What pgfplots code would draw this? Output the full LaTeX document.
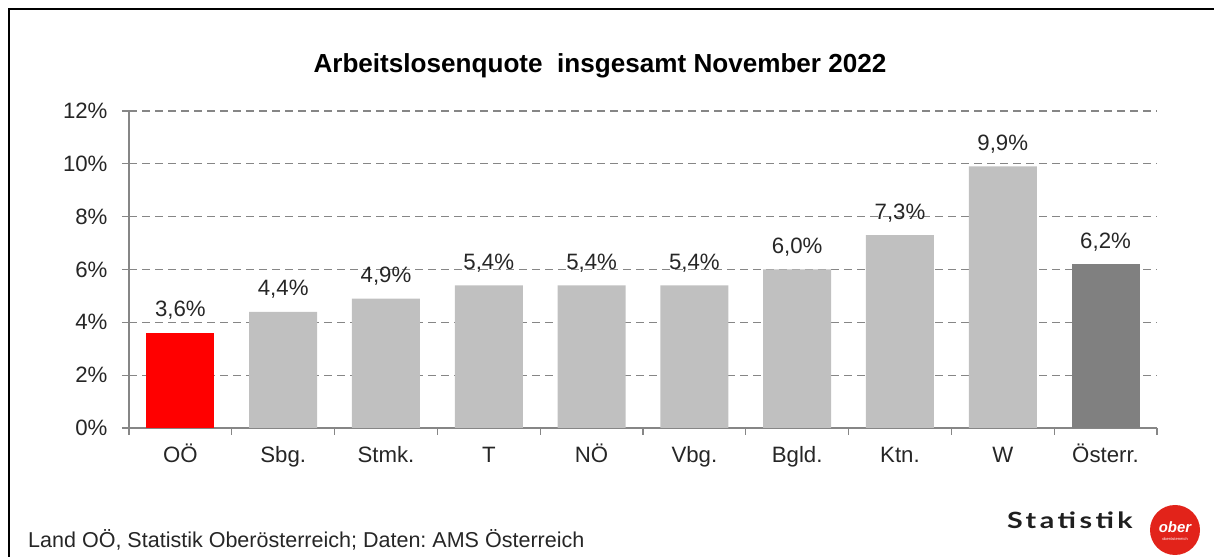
\documentclass[border=0pt]{standalone}
\usepackage{pgfplots}
\pgfplotsset{compat=1.18}
\usepackage{fontspec}
\setmainfont{Liberation Sans}
\newfontfamily\logofont[LetterSpace=12]{Lato}
\definecolor{barred}{HTML}{FF0000}
\definecolor{bargray}{HTML}{C0C0C0}
\definecolor{bardark}{HTML}{808080}
\definecolor{axgray}{HTML}{868686}
\definecolor{logored}{HTML}{E2231A}
\pgfkeys{/pgf/number format/assume math mode=true}
\frenchspacing
\begin{document}
\begin{tikzpicture}
\useasboundingbox (0bp,0bp) rectangle (1214bp,557bp);
\draw[line width=2bp] (9bp,-5bp) -- (9bp,548bp) -- (1220bp,548bp);
\begin{axis}[
  at={(129bp,129bp)}, anchor=south west,
  scale only axis, width=1028bp, height=317bp,
  xmin=-0.5, xmax=9.5, ymin=0, ymax=12,
  axis x line*=bottom, axis y line*=left,
  axis line style={axgray, line width=1.3bp, -},
  ytick={0,2,...,12},
  yticklabel={\pgfmathprintnumber[assume math mode=true]{\tick}\%},
  tick align=outside, major tick length=7bp,
  tick style={axgray, line width=1.3bp},
  xtick={-0.5,0.5,...,9.5}, xticklabels={},
  extra x ticks={0,...,9},
  extra x tick labels={O\"O,Sbg.,Stmk.,T,N\"O,Vbg.,Bgld.,Ktn.,W,\"Osterr.},
  extra x tick style={major tick length=0pt, xticklabel style={anchor=base, yshift=-35bp}},
  ymajorgrids, grid style={axgray, line width=1.3bp, dash pattern=on 8bp off 5bp},
  ticklabel style={font=\fontsize{22.3}{25}\selectfont, text=black!85},
  yticklabel style={xshift=-11bp},
  ybar, bar width=68bp, bar shift=0pt,
  nodes near coords={\pgfmathprintnumber[fixed,fixed zerofill,precision=1,use comma,assume math mode=true]{\pgfplotspointmeta}\%},
  nodes near coords style={anchor=base, inner sep=0pt, yshift=16bp, font=\fontsize{22.3}{25}\selectfont, text=black!85},
  clip=false,
]
\addplot[fill=barred, draw=none] coordinates {(0,3.6)};
\addplot[fill=bargray, draw=none] coordinates {(1,4.4) (2,4.9) (3,5.4) (4,5.4) (5,5.4) (6,6.0) (7,7.3) (8,9.9)};
\addplot[fill=bardark, draw=none] coordinates {(9,6.2)};
\end{axis}
\node[anchor=base, font=\bfseries\fontsize{26.2}{30}\selectfont] at (600bp,484bp) {Arbeitslosenquote\ \ insgesamt November 2022};
\node[anchor=base west, inner sep=0pt, font=\fontsize{21.6}{24}\selectfont, text=black!85] at (28bp,10bp) {Land O\"O, Statistik Ober\"osterreich; Daten: AMS \"Osterreich};
\node[anchor=base west, inner sep=0pt, text=black!88] at (1007bp,29bp) {\scalebox{1.15}[0.9]{\logofont\bfseries\fontsize{25}{28}\selectfont Statistik}};
\fill[logored] (1175bp,27bp) circle (25bp);
\node[text=white, font=\itshape\bfseries\fontsize{15}{16}\selectfont, inner sep=0pt] at (1175bp,30bp) {ober};
\node[text=white, font=\fontsize{4}{5}\selectfont, inner sep=0pt] at (1175bp,18bp) {ober\"osterreich};
\end{tikzpicture}
\end{document}
